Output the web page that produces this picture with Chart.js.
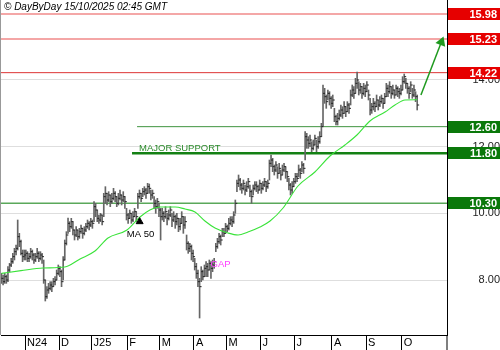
<!DOCTYPE html>
<html><head><meta charset="utf-8">
<script src="https://cdn.jsdelivr.net/npm/chart.js@4.4.0/dist/chart.umd.min.js"></script>
<style>html,body{margin:0;padding:0;background:#fff;}canvas{display:block;}</style>
</head><body>
<canvas id="c" width="500" height="350"></canvas>
<script>
// ---- data (trading-day index 0 = 11 Oct 2024 ... 256 = 14 Oct 2025) ----
const closes = [
 8.05,7.95,8.1,8.0,8.3,8.45,8.55,8.7,8.85,8.95,9.3,9.15,8.8,8.7,8.75,
 8.8,8.65,8.7,8.85,8.75,8.6,8.7,8.8,8.65,8.75,8.7,
 8.0,7.5,7.7, 7.75,7.85,7.8,7.95,8.0, 8.2,8.35,8.25,7.95, 8.6,9.1,9.35,
 9.7,9.6,9.75,9.5, 9.35,9.5,9.3,9.45,9.55,9.4,9.5, 9.6,9.7,9.65,9.75,9.7,
 10.2, 10.1,9.85,9.8,9.95,9.75, 10.5,10.6,
 10.4,10.55,10.35,10.45,10.6,10.5,10.3,10.45,10.55,10.4,10.5,10.35,
 9.95,9.85,10.0,9.8,9.9,10.05,9.9, 10.5,10.6,10.45,10.65,
 10.7,10.6,10.8,10.75,10.55,10.6, 10.3,10.2,10.35,10.1, 9.9,
 10.0,9.9,10.05,9.85,9.95,10.1,9.8,9.9,9.75, 9.85,9.6,9.7,9.9,9.65,9.75,
 9.1,8.95,9.0,8.8,8.7, 8.4,8.2,7.95,7.8, 8.25,8.1,8.35,
 8.4,8.3,8.5,8.35,8.45,8.55, 9.0,9.15,9.3,9.2,
 9.45,9.4,9.6,9.55,9.7,9.8,9.75,9.95, 10.3, 10.9,11.0,10.85,
 10.75,10.9,10.7,10.8,10.95,10.65,10.5,10.75,10.85,
 10.8,10.7,10.9,10.75,10.85,10.95,10.8,10.9, 11.5,11.6,11.4,
 11.3,11.45,11.2,11.35,11.15,11.3,11.4,11.25,11.1, 10.85,10.7,10.8,10.95,
 11.1,11.05, 11.3,11.2,11.45,11.35, 12.3,12.2,
 12.1,12.2,11.95,12.05,12.25,12.0,12.15,12.3, 12.6,13.6,
 13.5,13.35,13.6,13.45,13.3,13.4, 12.9,12.75,12.85,12.95,
 13.1,13.0,13.2,13.05,13.25,13.15, 13.55,13.7,13.6, 13.9,14.0,
 13.7,13.8,13.6,13.75,13.65,13.85,13.55, 13.1,13.2,
 13.3,13.2,13.4,13.25,13.35,13.45,13.3,13.5, 13.75,13.65,13.8,
 13.6,13.7,13.55,13.75,13.65,13.6,13.7, 13.95,14.1,13.9,
 13.75,13.6,13.85,13.55,13.7,13.5, 13.25
];
const highs = [
 8.2,8.15,8.2,8.15,8.4,8.5,8.65,8.8,8.95,9.05,9.8,9.4,9.2,8.9,8.9,
 8.9,8.85,8.8,8.95,8.9,8.8,8.8,8.95,8.85,8.85,8.8,
 8.6,8.0,7.8, 7.9,7.95,7.95,8.05,8.1, 8.3,8.45,8.4,8.3, 8.7,9.2,9.45,
 9.86,9.75,9.85,9.75, 9.5,9.6,9.5,9.55,9.65,9.55,9.6, 9.7,9.8,9.75,9.85,9.8,
 10.35, 10.3,10.1,9.95,10.0,9.95, 10.6,10.8,
 10.6,10.65,10.55,10.6,10.75,10.65,10.5,10.6,10.7,10.55,10.65,10.5,
 10.15,10.0,10.1,10.0,10.05,10.15,10.05, 10.6,10.7,10.6,10.75,
 10.8,10.75,10.9,10.88,10.7,10.7, 10.5,10.4,10.45,10.3, 10.15,
 10.15,10.05,10.2,10.0,10.1,10.2,10.0,10.05,9.95, 10.0,9.85,9.85,10.05,9.9,9.9,
 9.35,9.15,9.1,9.05,8.9, 8.65,8.5,8.3,8.05, 8.4,8.3,8.45,
 8.55,8.5,8.6,8.55,8.6,8.65, 9.1,9.25,9.4,9.35,
 9.55,9.55,9.7,9.65,9.85,9.9,9.9,10.05, 10.4, 11.0,11.15,11.05,
 10.9,11.0,10.85,10.95,11.05,10.85,10.7,10.85,10.95,
 10.95,10.85,11.0,10.9,10.95,11.05,10.95,11.0, 11.6,11.75,11.65,
 11.45,11.55,11.4,11.5,11.3,11.45,11.5,11.4,11.25, 11.05,10.9,10.95,11.05,
 11.2,11.2, 11.45,11.35,11.55,11.5, 12.45,12.4,
 12.3,12.35,12.15,12.2,12.35,12.2,12.3,12.45, 12.7,13.85,
 13.75,13.55,13.7,13.65,13.5,13.55, 13.15,12.95,13.0,13.1,
 13.25,13.2,13.35,13.2,13.35,13.3, 13.7,13.85,13.8, 14.05,14.24,
 13.95,13.9,13.8,13.9,13.85,13.95,13.7, 13.45,13.3,
 13.45,13.35,13.55,13.4,13.5,13.55,13.45,13.6, 13.9,13.85,13.95,
 13.8,13.85,13.7,13.85,13.8,13.75,13.85, 14.1,14.18,14.05,
 13.9,13.8,13.95,13.75,13.85,13.65, 13.55
];
const lows = [
 7.9,7.85,7.9,7.9,7.95,8.25,8.4,8.5,8.6,8.75,8.9,9.0,8.75,8.55,8.6,
 8.6,8.55,8.55,8.65,8.6,8.5,8.55,8.65,8.55,8.6,8.5,
 7.9,7.37,7.45, 7.6,7.7,7.65,7.8,7.85, 8.0,8.15,8.1,7.8, 8.0,8.6,9.05,
 9.4,9.45,9.55,9.35, 9.2,9.3,9.2,9.25,9.4,9.25,9.35, 9.45,9.55,9.5,9.6,9.55,
 9.75, 9.9,9.75,9.7,9.75,9.65, 9.9,10.3,
 10.25,10.35,10.2,10.3,10.4,10.35,10.2,10.25,10.4,10.25,10.35,10.15,
 9.8,9.7,9.85,9.7,9.75,9.9,9.75, 10.15,10.45,10.35,10.5,
 10.55,10.45,10.6,10.6,10.4,10.45, 10.15,10.0,10.15,9.9, 9.2,
 9.8,9.75,9.85,9.65,9.8,9.9,9.6,9.75,9.55, 9.65,9.45,9.5,9.7,9.4,9.55,
 8.9,8.8,8.85,8.6,8.55, 8.3,8.05,7.8,6.86, 7.95,8.0,8.1,
 8.1,8.1,8.3,8.05,8.25,8.35, 8.85,8.95,9.1,9.05,
 9.3,9.3,9.4,9.45,9.5,9.65,9.6,9.7, 10.0, 10.65,10.8,10.7,
 10.6,10.7,10.55,10.65,10.75,10.5,10.3,10.55,10.7,
 10.65,10.6,10.7,10.6,10.7,10.8,10.65,10.75, 11.0,11.4,11.25,
 11.15,11.25,11.05,11.2,11.0,11.15,11.25,11.05,10.95, 10.7,10.55,10.6,10.8,
 10.9,10.95, 11.1,11.05,11.25,11.2, 11.6,11.95,
 11.95,12.0,11.85,11.9,12.05,11.85,11.95,12.1, 12.3,12.6,
 13.3,13.15,13.4,13.25,13.15,13.2, 12.75,12.65,12.65,12.8,
 12.9,12.85,13.0,12.9,13.05,13.0, 13.25,13.5,13.45, 13.6,13.75,
 13.55,13.6,13.45,13.55,13.5,13.65,13.4, 12.95,13.0,
 13.1,13.05,13.2,13.1,13.2,13.3,13.15,13.3, 13.5,13.5,13.6,
 13.45,13.55,13.45,13.55,13.5,13.45,13.55, 13.7,13.9,13.75,
 13.6,13.45,13.65,13.45,13.5,13.35, 13.1
];
// 50-day moving average
const maX = [0,12,25.6,39,48.4,57.6,65.6,77.3,85.3,91.4,97.6,107,113,119.2,125.3,131.5,139.5,145.7,151.8,159.2,165.4,173.4,182.6,193,202.3,211.5,218.9,226.9,236.2,242.3,248.5,256];
const maY = [8.2,8.28,8.36,8.39,8.63,8.87,9.26,9.5,9.89,10.1,10.19,10.19,10.13,10.04,9.77,9.56,9.41,9.35,9.44,9.59,9.77,10.16,10.82,11.24,11.72,12.05,12.35,12.77,13.04,13.25,13.4,13.41];
// month axis
const monthStarts = [15,36,56,78,98,119,139,160,181,204,225,247];
const monthLabels = ['N24','D','J25','F','M','A','M','J','J','A','S','O'];
const yTicks = [8,10,12,14];
// horizontal levels
const levels = [15.98,15.23,14.22,12.60,11.80,10.30];
const levelFrom = [-0.3,-0.3,-0.3,83.5,80.4,-0.3];
// annotations
const arrowX = [258.3,270.9];
const arrowY = [13.55,15.14];
const maMarkX = [85.1];
const maMarkY = [9.75];

// ---- styles ----
const X_MIN = -0.28, X_MAX = 274.35;
const levelStyle = [
  {line:'#f08a8a', w:1.5, box:'#e60000'},
  {line:'#f4a6a6', w:2,   box:'#e60000'},
  {line:'#dd3333', w:1,   box:'#e60000'},
  {line:'#3f943f', w:1,   box:'#0a780a'},
  {line:'#138013', w:2.5, box:'#0a780a'},
  {line:'#5aa85a', w:1.5, box:'#0a780a'}
];
const FONT = "'Liberation Sans', Arial, sans-serif";
Chart.defaults.font.family = FONT;

const datasets = [];
levels.forEach((v,i)=>{
  datasets.push({type:'line', data:[{x:levelFrom[i],y:v},{x:X_MAX,y:v}], borderColor:levelStyle[i].line,
    borderWidth:levelStyle[i].w, pointRadius:0, order:20});
});
datasets.push({type:'bar', data:lows.map((l,i)=>({x:i,y:[l,highs[i]]})), backgroundColor:'#666',
  borderWidth:0, barThickness:1, order:10});
datasets.push({type:'scatter', data:closes.map((c,i)=>({x:i+0.6,y:c})), pointStyle:'line', pointRadius:1,
  borderColor:'#222', pointBorderWidth:1, order:9});
datasets.push({type:'line', data:maX.map((x,i)=>({x,y:maY[i]})), borderColor:'#3ae33a', borderWidth:1.1,
  pointRadius:0, cubicInterpolationMode:'monotone', order:5});
datasets.push({type:'line', data:arrowX.map((x,i)=>({x,y:arrowY[i]})), borderColor:'#1f9a1f', borderWidth:1.5,
  pointRadius:[0,4.5], pointStyle:'triangle', rotation:21, pointBackgroundColor:'#1f9a1f', pointBorderColor:'#1f9a1f', order:4});
datasets.push({type:'scatter', data:maMarkX.map((x,i)=>({x,y:maMarkY[i]})), pointStyle:'triangle', pointRadius:4,
  backgroundColor:'#000', borderColor:'#000', order:3});

const notes = [
  {text:'MAJOR SUPPORT', x:84.7, y:11.87, color:'#2a8a2a', size:9.5, align:'left'},
  {text:'MA 50', x:85.6, y:9.29, color:'#000', size:9.5, align:'center'},
  {text:'GAP', x:134.9, y:8.39, color:'#ff40ff', size:9.5, align:'center'}
];

const decor = {
  id:'decor',
  afterDraw(chart){
    const ctx = chart.ctx, xs = chart.scales.x, ys = chart.scales.y, ca = chart.chartArea;
    ctx.save();
    ctx.fillStyle = '#999';
    ctx.fillRect(0,0,1,ca.bottom);
    ctx.fillStyle = '#000';
    ctx.fillRect(Math.round(ca.right)-0.5,ca.bottom,1,chart.height-ca.bottom);
    ctx.font = "italic 10px "+FONT;
    ctx.fillStyle = '#000';
    ctx.textAlign = 'left'; ctx.textBaseline = 'middle';
    ctx.fillText('\u00A9 DayByDay 15/10/2025 02:45 GMT', 4, 7);
    notes.forEach(n=>{
      ctx.font = n.size+"px "+FONT;
      ctx.fillStyle = n.color; ctx.textAlign = n.align; ctx.textBaseline = 'alphabetic';
      ctx.fillText(n.text, xs.getPixelForValue(n.x), ys.getPixelForValue(n.y));
    });
    ctx.font = "bold 11px "+FONT;
    ctx.textAlign = 'right'; ctx.textBaseline = 'middle';
    levels.forEach((v,i)=>{
      const y = ys.getPixelForValue(v);
      ctx.fillStyle = levelStyle[i].box;
      ctx.fillRect(ca.right+1, Math.round(y)-6, chart.width-ca.right-1, 12);
      ctx.fillStyle = '#fff';
      ctx.fillText(v.toFixed(2), chart.width-3, Math.round(y)+0.5);
    });
    ctx.restore();
  }
};

new Chart(document.getElementById('c'), {
  type:'bar',
  data:{datasets},
  options:{
    responsive:false, animation:false, events:[], devicePixelRatio:1,
    layout:{autoPadding:false, padding:{left:1,top:0,right:0,bottom:0}},
    plugins:{legend:{display:false}, tooltip:{enabled:false}},
    scales:{
      x:{type:'linear', min:X_MIN, max:X_MAX, offset:false,
        afterBuildTicks:s=>{ s.ticks = monthStarts.map(v=>({value:v-0.5})); },
        afterFit:s=>{ s.height = 15; s.paddingLeft = 0; s.paddingRight = 0; },
        grid:{drawOnChartArea:false, drawTicks:true, tickLength:15, color:'#000', offset:false},
        border:{display:true, color:'#000'},
        ticks:{callback:(v,i)=>monthLabels[i], autoSkip:false, maxRotation:0, minRotation:0,
          align:'start', labelOffset:2, padding:-14, color:'#000', font:{size:11}}
      },
      y:{type:'linear', position:'right', min:6.35, max:16.4,
        afterBuildTicks:s=>{ s.ticks = yTicks.map(v=>({value:v})); },
        afterFit:s=>{ s.width = 53; s.paddingTop = 0; s.paddingBottom = 0; },
        grid:{color:'#dedede', lineWidth:1, drawTicks:false},
        border:{display:true, color:'#000'},
        ticks:{callback:v=>Number(v).toFixed(2), color:'#222', font:{size:11}, crossAlign:'far', padding:23}
      }
    }
  },
  plugins:[decor]
});
</script>
</body></html>
